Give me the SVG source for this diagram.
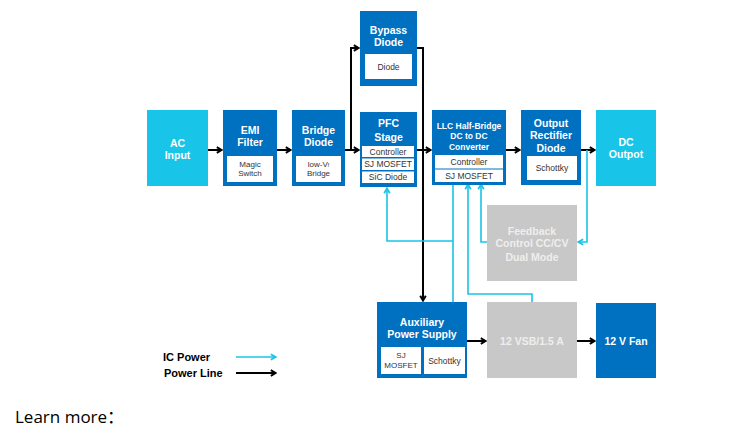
<svg xmlns="http://www.w3.org/2000/svg" width="745" height="429" viewBox="0 0 745 429">
<defs>
<style>
.blue{fill:#0070c0}
.cyan{fill:#18c4e8}
.gray{fill:#c8c8c8}
.inner{fill:#ffffff}
.t{font-family:"Liberation Sans",Arial,sans-serif;font-weight:bold;fill:#ffffff;text-anchor:middle;font-size:10.5px}
.ts{font-family:"Liberation Sans",Arial,sans-serif;font-weight:bold;fill:#ffffff;text-anchor:middle;font-size:8.5px}
.tg{font-family:"Liberation Sans",Arial,sans-serif;font-weight:bold;fill:#eeeeee;text-anchor:middle;font-size:10.5px}
.i{font-family:"Liberation Sans",Arial,sans-serif;fill:#333333;text-anchor:middle;font-size:8px}
.il{font-family:"Liberation Sans",Arial,sans-serif;fill:#333333;text-anchor:middle;font-size:8.5px}
.leg{font-family:"Liberation Sans",Arial,sans-serif;font-weight:bold;fill:#000000;font-size:11px}
.bk{fill:none;stroke:#000000;stroke-width:2}
.cy{fill:none;stroke:#18c4e8;stroke-width:1.6}
</style>
<marker id="ab" viewBox="0 0 10 10" refX="8.5" refY="5" markerWidth="8" markerHeight="8" orient="auto" markerUnits="userSpaceOnUse"><path d="M2,1.5 L8,5 L2,8.5" fill="none" stroke="#000" stroke-width="2.4"/></marker>
<marker id="ac" viewBox="0 0 10 10" refX="8.5" refY="5" markerWidth="8" markerHeight="8" orient="auto" markerUnits="userSpaceOnUse"><path d="M2,1.5 L8,5 L2,8.5" fill="none" stroke="#18c4e8" stroke-width="2.2"/></marker>
</defs>
<rect width="745" height="429" fill="#ffffff"/>

<g id="connectors">
<path class="bk" d="M208,150 H222" marker-end="url(#ab)"/>
<path class="bk" d="M277,150 H291" marker-end="url(#ab)"/>
<path class="bk" d="M345,150 H351 V48 H359" marker-end="url(#ab)"/>
<path class="bk" d="M351,150 H359" marker-end="url(#ab)"/>
<path class="bk" d="M417,48 H423 V301" marker-end="url(#ab)"/>
<path class="bk" d="M417,150 H431" marker-end="url(#ab)"/>
<path class="bk" d="M506,150 H520" marker-end="url(#ab)"/>
<path class="bk" d="M581,150 H595" marker-end="url(#ab)"/>
<path class="bk" d="M467,341 H486" marker-end="url(#ab)"/>
<path class="bk" d="M577,341 H595" marker-end="url(#ab)"/>
<path class="cy" d="M587,150 V242 H578" marker-end="url(#ac)"/>
<path class="cy" d="M487,242 H481 V184" marker-end="url(#ac)"/>
<path class="cy" d="M532,302 V294 H468 V184" marker-end="url(#ac)"/>
<path class="cy" d="M453,302 V184"/>
<path class="cy" d="M453,241 H387 V188" marker-end="url(#ac)"/>
<path class="cy" d="M236,357 H276" marker-end="url(#ac)"/>
<path class="bk" d="M236,373 H276" marker-end="url(#ab)"/>
</g>

<g id="ac-input">
<rect class="cyan" x="147" y="110" width="61" height="76"/>
<text class="t" x="177.5" y="146.5">AC</text>
<text class="t" x="177.5" y="158.5">Input</text>
</g>

<g id="emi-filter">
<rect class="blue" x="223" y="110" width="54" height="76"/>
<text class="t" x="250" y="133.5">EMI</text>
<text class="t" x="250" y="145.5">Filter</text>
<rect class="inner" x="227" y="156" width="46" height="26"/>
<text class="i" x="250" y="166.5">Magic</text>
<text class="i" x="250" y="175.5">Switch</text>
</g>

<g id="bridge-diode">
<rect class="blue" x="292" y="110" width="53" height="76"/>
<text class="t" x="318.5" y="133.5">Bridge</text>
<text class="t" x="318.5" y="145.5">Diode</text>
<rect class="inner" x="296" y="156" width="45" height="26"/>
<text class="i" x="318.5" y="166.5">low-V<tspan font-size="5">f</tspan></text>
<text class="i" x="318.5" y="175.5">Bridge</text>
</g>

<g id="bypass-diode">
<rect class="blue" x="360" y="11" width="57" height="75"/>
<text class="t" x="388.5" y="33.5">Bypass</text>
<text class="t" x="388.5" y="45.5">Diode</text>
<rect class="inner" x="365" y="54" width="47" height="25"/>
<text class="il" x="388.5" y="69.5">Diode</text>
</g>

<g id="pfc-stage">
<rect class="blue" x="360" y="112" width="57" height="75"/>
<text class="t" x="388.5" y="127">PFC</text>
<text class="t" x="388.5" y="140.5">Stage</text>
<rect class="inner" x="362" y="146" width="52" height="11"/>
<rect class="inner" x="362" y="158.5" width="52" height="11.5"/>
<rect class="inner" x="362" y="171.5" width="52" height="11.5"/>
<text class="il" x="388" y="154.8">Controller</text>
<text class="il" x="388" y="167.3">SJ MOSFET</text>
<text class="il" x="388" y="180.3">SiC Diode</text>
</g>

<g id="llc-converter">
<rect class="blue" x="432" y="110" width="74" height="75"/>
<text class="ts" x="469" y="129">LLC Half-Bridge</text>
<text class="ts" x="469" y="139">DC to DC</text>
<text class="ts" x="469" y="150">Converter</text>
<rect class="inner" x="435" y="155" width="68" height="13.5"/>
<rect class="inner" x="435" y="169.5" width="68" height="12.5"/>
<text class="il" x="469" y="164.8">Controller</text>
<text class="il" x="469" y="178.8">SJ MOSFET</text>
</g>

<g id="output-rectifier">
<rect class="blue" x="521" y="110" width="60" height="75"/>
<text class="t" x="551" y="126.5">Output</text>
<text class="t" x="551" y="139">Rectifier</text>
<text class="t" x="551" y="151.5">Diode</text>
<rect class="inner" x="527" y="156" width="50" height="24"/>
<text class="il" x="552" y="171">Schottky</text>
</g>

<g id="dc-output">
<rect class="cyan" x="596" y="110" width="60" height="76"/>
<text class="t" x="626" y="145.5">DC</text>
<text class="t" x="626" y="157.5">Outpot</text>
</g>

<g id="feedback">
<rect class="gray" x="487" y="205" width="90" height="76"/>
<text class="tg" x="532" y="234.5">Feedback</text>
<text class="tg" x="532" y="247">Control CC/CV</text>
<text class="tg" x="532" y="260.5">Dual Mode</text>
</g>

<g id="auxiliary">
<rect class="blue" x="377" y="302" width="90" height="76"/>
<text class="t" x="422" y="325.5">Auxiliary</text>
<text class="t" x="422" y="338">Power Supply</text>
<rect class="inner" x="381" y="347" width="40" height="27"/>
<rect class="inner" x="424" y="347" width="41" height="27"/>
<text class="i" x="401" y="358">SJ</text>
<text class="i" x="401" y="368">MOSFET</text>
<text class="il" x="444.5" y="363.5">Schottky</text>
</g>

<g id="vsb">
<rect class="gray" x="487" y="302" width="90" height="76"/>
<text class="tg" x="532" y="344.5">12 VSB/1.5 A</text>
</g>

<g id="fan">
<rect class="blue" x="596" y="303" width="60" height="75"/>
<text class="t" x="626" y="344.5">12 V Fan</text>
</g>

<g id="legend">
<text class="leg" x="163" y="361">IC Power</text>
<text class="leg" x="164" y="377">Power Line</text>
</g>

<text x="15" y="423" font-family="'Open Sans','Noto Sans CJK SC',sans-serif" font-size="17" fill="#000">Learn more：</text>
</svg>
